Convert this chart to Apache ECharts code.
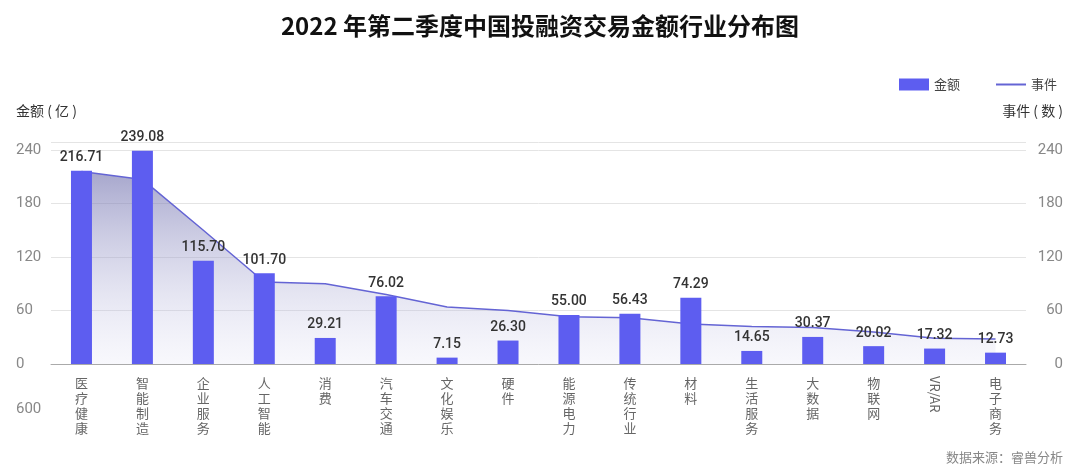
<!DOCTYPE html>
<html>
<head>
<meta charset="utf-8">
<script src="https://cdn.jsdelivr.net/npm/echarts@6/dist/echarts.min.js"></script>
<style>
html,body{margin:0;padding:0;background:#fff;}
#c{width:1080px;height:476px;}
</style>
</head>
<body>
<div id="c"></div>
<script>
const categories = ['医疗健康','智能制造','企业服务','人工智能','消费','汽车交通','文化娱乐','硬件','能源电力','传统行业','材料','生活服务','大数据','物联网','VR/AR','电子商务'];
const amounts = [216.71, 239.08, 115.70, 101.70, 29.21, 76.02, 7.15, 26.30, 55.00, 56.43, 74.29, 14.65, 30.37, 20.02, 17.32, 12.73];
const events = [216, 207, 150, 92, 90, 78, 64, 60, 53, 52, 45, 42, 41, 36, 29, 28];
const yTicks = [0, 60, 120, 180, 240];

const chart = echarts.init(document.getElementById('c'));
const CJK = '"Noto Sans CJK SC", "Noto Sans", sans-serif';
chart.setOption({
  backgroundColor: '#fff',
  animation: false,
  title: {
    text: '2022 年第二季度中国投融资交易金额行业分布图',
    left: 'center', top: 9,
    textStyle: {fontFamily: CJK, fontSize: 24, fontWeight: 'bold', color: '#111'}
  },
  legend: {
    right: 18, top: 73, itemGap: 35, itemWidth: 30, itemHeight: 12,
    textStyle: {fontFamily: CJK, fontSize: 13, color: '#444'},
    data: [{name: '金额', icon: 'rect'}, {name: '事件', itemStyle: {opacity: 0}}]
  },
  graphic: [
    {type: 'text', left: 16, top: 402, style: {text: '600', fontFamily: 'Roboto, sans-serif', fontSize: 15, fill: '#888'}},
    {type: 'text', right: 17, top: 451, style: {text: '数据来源：睿兽分析', fontFamily: CJK, fontSize: 13, fill: '#888'}}
  ],
  grid: {left: 51, right: 54, top: 142, bottom: 112, containLabel: false},
  xAxis: [{
    type: 'category', data: categories, position: 'bottom',
    axisLine: {lineStyle: {color: '#aaa'}},
    axisTick: {show: false},
    axisLabel: {
      interval: 0, margin: 12, color: '#666', fontFamily: CJK, fontSize: 13, lineHeight: 15,
      verticalAlign: 'top',
      formatter: v => v === 'VR/AR' ? '' : v.split('').join('\n')
    }
  }, {
    type: 'category', data: categories, position: 'bottom',
    axisLine: {show: false}, axisTick: {show: false}, splitLine: {show: false},
    axisLabel: {
      interval: 0, margin: 12, rotate: -90, color: '#666', fontFamily: CJK, fontSize: 13,
      formatter: v => v === 'VR/AR' ? v : ''
    }
  }],
  yAxis: [{
    type: 'value', name: '金额 ( 亿 )', min: 0, max: 249, interval: 60,
    nameLocation: 'end', nameGap: 24,
    nameTextStyle: {fontFamily: CJK, fontSize: 14, color: '#333', align: 'left', padding: [0, 0, 0, -35]},
    axisLine: {show: false}, axisTick: {show: false},
    splitLine: {lineStyle: {color: '#e4e4e4'}},
    axisLabel: {
      margin: 35, align: 'left', color: '#888', fontFamily: 'Roboto, sans-serif', fontSize: 15,
      formatter: v => yTicks.includes(v) ? String(v) : ''
    }
  }, {
    type: 'value', name: '事件 ( 数 )', min: 0, max: 249, interval: 60,
    nameLocation: 'end', nameGap: 24,
    nameTextStyle: {fontFamily: CJK, fontSize: 14, color: '#333', align: 'right', padding: [0, -37, 0, 0]},
    axisLine: {show: false}, axisTick: {show: false},
    splitLine: {show: false},
    axisLabel: {
      margin: 37, align: 'right', color: '#888', fontFamily: 'Roboto, sans-serif', fontSize: 15,
      formatter: v => yTicks.includes(v) ? String(v) : ''
    }
  }],
  series: [{
    name: '事件', type: 'line', yAxisIndex: 1, data: events, z: 1,
    symbol: 'none', smooth: false,
    lineStyle: {color: '#6464d4', width: 1.5},
    itemStyle: {color: '#6464d4'},
    areaStyle: {
      color: new echarts.graphic.LinearGradient(0, 0, 0, 1, [
        {offset: 0, color: 'rgba(115,115,175,0.9)'},
        {offset: 1, color: 'rgba(215,215,240,0.25)'}
      ])
    }
  }, {
    name: '金额', type: 'bar', yAxisIndex: 0, data: amounts, z: 2,
    barWidth: 21,
    itemStyle: {color: '#5d5df0'},
    label: {
      show: true, position: 'top', distance: 6, color: '#333',
      fontFamily: 'Roboto, sans-serif', fontSize: 14, fontWeight: 500,
      formatter: p => p.value.toFixed(2)
    }
  }]
});
</script>
</body>
</html>
